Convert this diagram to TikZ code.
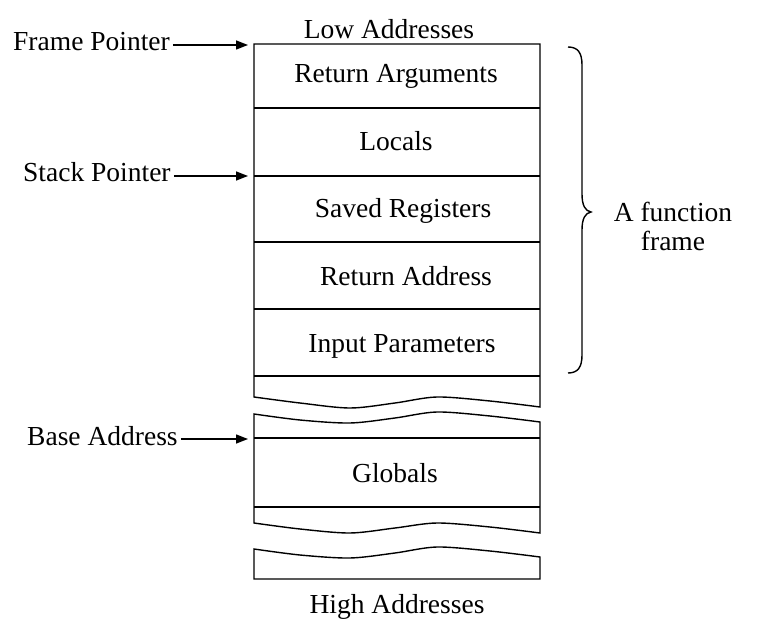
\documentclass[tikz,border=0pt]{standalone}
\usepackage{fontspec}
\setmainfont{Liberation Serif}
\usetikzlibrary{arrows.meta}
\begin{document}
\begin{tikzpicture}[x=1pt,y=-1pt,
  outline/.style={line width=1.4pt, line join=miter},
  rule/.style={line width=1.4pt},
  lbl/.style={inner sep=0pt, font=\fontsize{27.5}{29.5}\selectfont},
  ptr/.style={line width=1.4pt, -{Triangle[length=12pt,width=9pt]}},
]
\useasboundingbox (0,0) rectangle (757,620);

% upper block: the function frame, torn at the bottom
\draw[outline] plot[smooth] coordinates {(254,397) (300,403) (350,408) (395,403) (437,397) (490,401) (540,407)}
  -- (540,44) -- (254,44) -- cycle;
\foreach \y in {108,176,242,309,376}
  \draw[rule] (254,\y) -- (540,\y);

% middle block: globals, torn at both ends
\draw[outline] plot[smooth] coordinates {(254,414) (300,420) (350,423) (395,418) (437,412) (490,416) (540,422)}
  -- plot[smooth] coordinates {(540,533) (490,527) (437,523) (395,528) (350,533) (300,529) (254,523)}
  -- cycle;
\foreach \y in {438,507}
  \draw[rule] (254,\y) -- (540,\y);

% lower block, torn at the top
\draw[outline] plot[smooth] coordinates {(254,549) (300,555) (350,558) (395,553) (437,547) (490,551) (540,557)}
  -- (540,579) -- (254,579) -- cycle;

% region labels
\node[lbl, anchor=base] (low)    at (389,39)  {Low Addresses};
\node[lbl, anchor=base] (retarg) at (396,83)  {Return Arguments};
\node[lbl, anchor=base] (locals) at (396,151) {Locals};
\node[lbl, anchor=base] (saved)  at (403,218) {Saved Registers};
\node[lbl, anchor=base] (retadr) at (406,285) {Return Address};
\node[lbl, anchor=base] (input)  at (402,352) {Input Parameters};
\node[lbl, anchor=base] (glob)   at (395,482) {Globals};
\node[lbl, anchor=base] (high)   at (397,613) {High Addresses};

% pointers into the stack
\coordinate (fpt) at (248,45);
\coordinate (spt) at (248,176);
\coordinate (bat) at (248,439);
\node[lbl, anchor=base west] (fp) at (13,51)  {Frame Pointer};
\node[lbl, anchor=base west] (sp) at (23,182) {Stack Pointer};
\node[lbl, anchor=base west] (ba) at (27,445) {Base Address};
\draw[ptr] ([xshift=3pt]fp.east |- fpt) -- (fpt);
\draw[ptr] ([xshift=3pt]sp.east |- spt) -- (spt);
\draw[ptr] ([xshift=3pt]ba.east |- bat) -- (bat);

% brace spanning the frame
\draw[line width=1.4pt] (568,47) .. controls (578,47) and (582,53) .. (582,65)
  -- (582,194) .. controls (582,205) and (585,211) .. (591,212)
  .. controls (585,213) and (582,219) .. (582,230)
  -- (582,355) .. controls (582,367) and (578,373) .. (568,373);
\node[lbl, anchor=base, align=center] (frame) at (673,251) {A function\\frame};
\end{tikzpicture}
\end{document}
